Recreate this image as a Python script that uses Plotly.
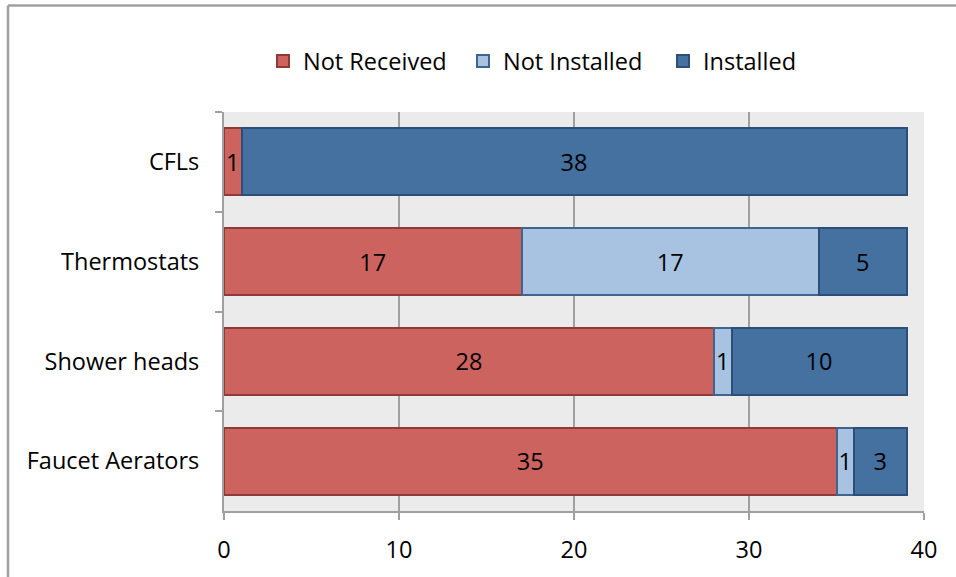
import plotly.graph_objects as go

# Measure status counts per item
categories = ["CFLs", "Thermostats", "Shower heads", "Faucet Aerators"]
not_received = [1, 17, 28, 35]
not_installed = [0, 17, 1, 1]
installed = [38, 5, 10, 3]
x_ticks = [0, 10, 20, 30, 40]

series = [
    ("Not Received", not_received, "#CD635E", "#8E3A37"),
    ("Not Installed", not_installed, "#A8C3E1", "#40648D"),
    ("Installed", installed, "#44719F", "#2D4E77"),
]

FONT = "Open Sans"
FS = 23.5
W, H = 956, 577
L, R, T, B = 224, 32, 112, 64

fig = go.Figure()
for name, vals, fill, edge in series:
    fig.add_trace(go.Bar(
        name=name,
        y=categories,
        x=vals,
        orientation="h",
        marker=dict(color=fill, line=dict(color=edge, width=2)),
        text=[str(v) if v else "" for v in vals],
        textposition="inside",
        insidetextanchor="middle",
        textangle=0,
        textfont=dict(family=FONT, size=FS, color="black"),
    ))

pw, ph = W - L - R, H - T - B


def px(x):
    return (x - L) / pw


def py(y):
    return (H - B - y) / ph


grey = "#A0A0A0"
shapes = [
    # outer chart frame (top and left edges)
    dict(type="line", xref="paper", yref="paper", x0=px(8), x1=px(960),
         y0=py(5), y1=py(5), line=dict(color=grey, width=2.5)),
    dict(type="line", xref="paper", yref="paper", x0=px(8), x1=px(8),
         y0=py(5), y1=py(580), line=dict(color=grey, width=2.5)),
]

fig.update_layout(
    width=W, height=H,
    margin=dict(l=L, r=R, t=T, b=B),
    paper_bgcolor="white",
    plot_bgcolor="#EBEBEB",
    barmode="stack",
    bargap=0.33,
    font=dict(family=FONT, size=FS, color="black"),
    uniformtext=dict(minsize=FS, mode="show"),
    showlegend=True,
    legend=dict(
        orientation="h",
        x=px(263), xanchor="left",
        y=py(61), yanchor="middle",
        font=dict(family=FONT, size=FS),
        itemwidth=30,
        entrywidth=155, entrywidthmode="pixels",
        traceorder="normal",
        bgcolor="rgba(0,0,0,0)",
    ),
    shapes=shapes,
    xaxis=dict(
        range=[0, 40],
        tickvals=x_ticks,
        showgrid=True, gridcolor=grey, gridwidth=2,
        showline=True, linecolor=grey, linewidth=2,
        ticks="outside", ticklen=7, tickcolor=grey, tickwidth=2,
        ticklabelstandoff=10,
        zeroline=False,
        fixedrange=True,
    ),
    yaxis=dict(
        categoryorder="array", categoryarray=categories,
        autorange="reversed",
        showline=True, linecolor=grey, linewidth=2,
        ticks="outside", ticklen=7, tickcolor=grey, tickwidth=2,
        tickson="boundaries",
        ticklabelstandoff=18,
        showgrid=False,
        fixedrange=True,
    ),
)

fig.write_html("out.html")
